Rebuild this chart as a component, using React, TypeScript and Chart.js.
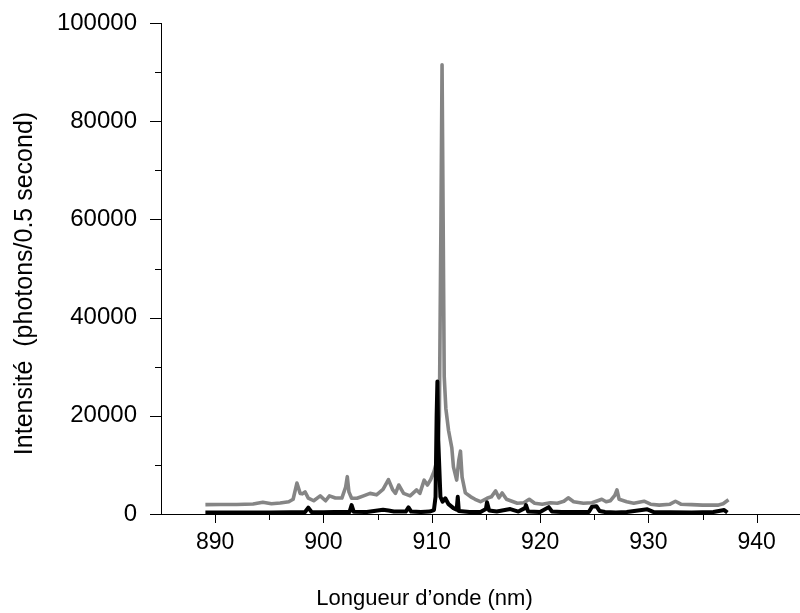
import React, { useEffect, useRef } from "react";
import { Chart, registerables } from "chart.js";

Chart.register(...registerables);

// Gray spectrum (upper trace)
const grayWavelengths = [
  889.1, 890.5, 892.0, 893.5, 894.4, 895.2, 896.0, 896.8, 897.2, 897.55, 897.85, 898.05, 898.3, 898.6,
  899.1, 899.7, 900.2, 900.55, 901.1, 901.7, 902.05, 902.2, 902.35, 902.6, 903.1, 903.7, 904.3, 904.9,
  905.5, 906.0, 906.4, 906.65, 906.95, 907.4, 908.0, 908.6, 908.9, 909.3, 909.6, 909.9, 910.2, 910.5,
  910.7, 910.85, 910.95, 911.05, 911.15, 911.3, 911.55, 911.85, 912.0, 912.3, 912.5, 912.65, 912.8,
  913.1, 913.6, 914.0, 914.5, 915.1, 915.5, 915.9, 916.2, 916.5, 916.9, 917.4, 917.9, 918.5, 919.0,
  919.5, 920.2, 920.95, 921.6, 922.2, 922.6, 923.1, 924.0, 924.8, 925.7, 926.1, 926.5, 926.9, 927.1,
  927.3, 928.0, 928.65, 929.6, 930.2, 931.0, 932.0, 932.5, 933.0, 934.0, 935.0, 936.4, 936.9, 937.4,
];
const grayValues = [
  1900, 1950, 1950, 2050, 2400, 2100, 2250, 2500, 3000, 6300, 4200, 4100, 4500, 3250,
  2700, 3700, 2700, 3700, 3250, 3250, 5500, 7600, 4500, 3200, 3200, 3700, 4200, 3900,
  5000, 7000, 4900, 4200, 5900, 4200, 3700, 4900, 4200, 6900, 5900, 7000, 8600, 11000,
  20000, 60000, 91500, 60000, 28000, 21500, 17000, 13500, 9600, 6900, 11000, 12800, 7500,
  4300, 3500, 3000, 2500, 3200, 3500, 4700, 3300, 4300, 3000, 2600, 2200, 2300, 3000,
  2200, 2000, 2300, 2200, 2600, 3300, 2500, 2200, 2300, 3000, 2500, 2700, 3800, 4900,
  3000, 2500, 2200, 2600, 2000, 1800, 2000, 2600, 2000, 1900, 1800, 1800, 2100, 2900,
];

// Black spectrum (lower trace)
const blackWavelengths = [
  889.1, 892.0, 895.0, 897.0, 898.3, 898.6, 898.9, 900.0, 901.0, 902.4, 902.6, 902.8, 904.0, 905.0,
  905.5, 906.0, 906.5, 907.6, 907.85, 908.1, 909.0, 909.8, 910.2, 910.35, 910.45, 910.52, 910.6,
  910.8, 911.0, 911.25, 911.55, 912.0, 912.3, 912.4, 912.5, 913.5, 914.5, 915.0, 915.1, 915.3, 916.0,
  917.25, 918.0, 918.6, 918.7, 918.9, 920.0, 920.8, 921.1, 922.0, 923.0, 924.5, 924.8, 925.2, 925.5,
  926.0, 927.0, 928.0, 929.9, 930.5, 932.0, 934.0, 936.0, 937.0, 937.3,
];
const blackValues = [
  300, 300, 300, 350, 400, 1300, 400, 350, 400, 400, 1800, 450, 400, 700,
  850, 700, 500, 500, 1350, 500, 400, 500, 800, 3500, 20000, 27000, 15000,
  3500, 2500, 3200, 2000, 1200, 900, 3500, 600, 400, 400, 1000, 2400, 700, 500,
  1000, 500, 1200, 1800, 500, 400, 1400, 500, 400, 400, 400, 1500, 1600, 600,
  400, 300, 400, 950, 400, 350, 300, 400, 800, 300,
];

const xMajorTicks = [890, 900, 910, 920, 930, 940];
const xMinorTicks = [895, 905, 915, 925, 935];
const yMajorTicks = [0, 20000, 40000, 60000, 80000, 100000];
const yMinorTicks = [10000, 30000, 50000, 70000, 90000];

const xTitle = "Longueur d\u2019onde (nm)";
const yTitle = "Intensit\u00e9  (photons/0.5 second)";

const FONT = "'Liberation Sans', Arial, sans-serif";

const tickPlugin = {
  id: "customTicksAndTitles",
  afterDraw(chart: any) {
    const ctx = chart.ctx;
    const xs = chart.scales.x;
    const ys = chart.scales.y;
    const area = chart.chartArea;
    ctx.save();
    ctx.strokeStyle = "#000";
    ctx.lineWidth = 1;
    ctx.beginPath();
    xMajorTicks.forEach((v) => {
      const px = Math.round(xs.getPixelForValue(v)) + 0.5;
      ctx.moveTo(px, area.bottom);
      ctx.lineTo(px, area.bottom + 9);
    });
    xMinorTicks.forEach((v) => {
      const px = Math.round(xs.getPixelForValue(v)) + 0.5;
      ctx.moveTo(px, area.bottom);
      ctx.lineTo(px, area.bottom + 6);
    });
    yMajorTicks.forEach((v) => {
      const py = Math.round(ys.getPixelForValue(v)) + 0.5;
      ctx.moveTo(area.left - 11, py);
      ctx.lineTo(area.left, py);
    });
    yMinorTicks.forEach((v) => {
      const py = Math.round(ys.getPixelForValue(v)) + 0.5;
      ctx.moveTo(area.left - 6, py);
      ctx.lineTo(area.left, py);
    });
    ctx.stroke();

    ctx.fillStyle = "#000";
    ctx.font = `22px ${FONT}`;
    ctx.textAlign = "center";
    ctx.textBaseline = "alphabetic";
    ctx.fillText(xTitle, 424.5, 605);

    ctx.translate(31.5, 283.5);
    ctx.rotate(-Math.PI / 2);
    ctx.font = `25px ${FONT}`;
    ctx.fillText(yTitle, 0, 0);
    ctx.restore();
  },
};

export default function App() {
  const canvasRef = useRef<HTMLCanvasElement | null>(null);

  useEffect(() => {
    if (!canvasRef.current) return;
    const chart = new Chart(canvasRef.current, {
      type: "line",
      data: {
        datasets: [
          {
            label: "black",
            data: blackWavelengths.map((x, i) => ({ x, y: blackValues[i] })),
            borderColor: "#000000",
            borderWidth: 4,
            pointRadius: 0,
            tension: 0,
            fill: false,
            borderJoinStyle: "round",
          },
          {
            label: "gray",
            data: grayWavelengths.map((x, i) => ({ x, y: grayValues[i] })),
            borderColor: "#858585",
            borderWidth: 3.6,
            pointRadius: 0,
            tension: 0,
            fill: false,
            borderJoinStyle: "round",
          },
        ],
      },
      options: {
        animation: false,
        responsive: false,
        maintainAspectRatio: false,
        layout: { padding: { top: 23, right: 0, left: 0, bottom: 0 } },
        plugins: {
          legend: { display: false },
          tooltip: { enabled: false },
        },
        scales: {
          x: {
            type: "linear",
            min: 885,
            max: 944,
            afterBuildTicks: (scale: any) => {
              scale.ticks = xMajorTicks.map((v) => ({ value: v }));
            },
            afterFit: (scale: any) => {
              scale.height = 99;
              scale.paddingLeft = 0;
              scale.paddingRight = 0;
            },
            grid: { display: false, drawTicks: false },
            border: { display: true, color: "#000", width: 1 },
            ticks: {
              color: "#000",
              font: { family: FONT, size: 23 },
              padding: 15,
              maxRotation: 0,
              autoSkip: false,
              callback: (v: any) => String(v),
            },
          },
          y: {
            type: "linear",
            min: 0,
            max: 100000,
            afterBuildTicks: (scale: any) => {
              scale.ticks = yMajorTicks.map((v) => ({ value: v }));
            },
            afterFit: (scale: any) => {
              scale.width = 161;
              scale.paddingTop = 0;
              scale.paddingBottom = 0;
            },
            grid: { display: false, drawTicks: false },
            border: { display: true, color: "#000", width: 1 },
            ticks: {
              color: "#000",
              font: { family: FONT, size: 24 },
              padding: 24,
              autoSkip: false,
              callback: (v: any) => String(v),
            },
          },
        },
      },
      plugins: [tickPlugin],
    });
    return () => chart.destroy();
  }, []);

  return (
    <div style={{ position: "fixed", left: 0, top: 0, width: 800, height: 613, background: "#fff" }}>
      <canvas ref={canvasRef} width={800} height={613} style={{ display: "block" }} />
    </div>
  );
}
